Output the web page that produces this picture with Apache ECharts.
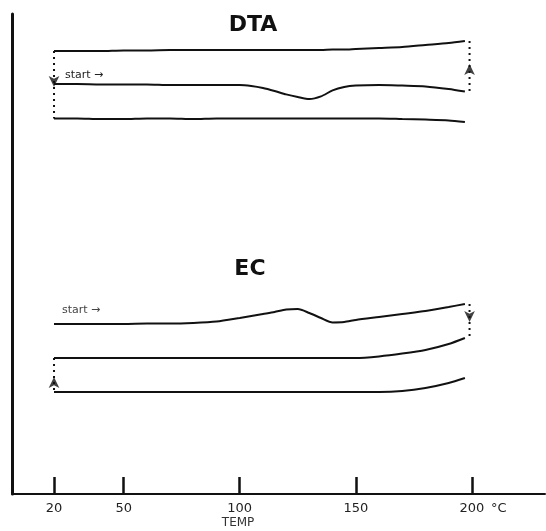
<!DOCTYPE html>
<html>
<head>
<meta charset="utf-8">
<script src="https://cdn.jsdelivr.net/npm/echarts@6/dist/echarts.min.js"></script>
<style>html,body{margin:0;padding:0;background:#fff}#c{width:546px;height:531px}</style>
</head>
<body>
<div id="c"></div>
<script>
// Temperature grid (°C)
const temps = [20,30,40,50,60,70,80,90,100,105,110,115,120,125,130,135,140,145,150,160,170,180,190,197];
// DTA traces (arbitrary deflection units)
const dtaTop = [110.75,110.75,110.75,110.9,110.9,111,111,111,111,111,111,111,111,111,111,111,111.1,111.1,111.25,111.5,111.75,112.25,112.75,113.25];
const dtaMid = [102.5,102.5,102.4,102.4,102.4,102.25,102.25,102.25,102.25,102,101.5,100.75,99.9,99.25,98.75,99.4,100.9,101.75,102.1,102.25,102.1,101.9,101.25,100.6];
const dtaBot = [93.9,93.9,93.75,93.75,93.9,93.9,93.75,93.9,93.9,93.9,93.9,93.9,93.9,93.9,93.9,93.9,93.9,93.9,93.9,93.9,93.75,93.6,93.4,93];
// EC traces
const ecTop = [42.5,42.5,42.5,42.5,42.6,42.6,42.75,43.1,44,44.5,45,45.5,46.1,46.25,45.25,44,42.9,43,43.5,44.25,45,45.75,46.75,47.5];
const ecMid = [34,34,34,34,34,34,34,34,34,34,34,34,34,34,34,34,34,34,34,34.4,35.1,36,37.5,39];
const ecBot = [25.5,25.5,25.5,25.5,25.5,25.5,25.5,25.5,25.5,25.5,25.5,25.5,25.5,25.5,25.5,25.5,25.5,25.5,25.5,25.5,25.75,26.5,27.75,29];
// Range brackets (temperature of dotted verticals)
const bracketLeftT = 20;
const bracketRightT = 199;
// Arrow markers on brackets
const arrowT = [20, 199, 199, 20];
const arrowV = [101.75, 107.5, 43, 29.25];
const arrowRot = [180, 0, 180, 0];
// Tick labels
const tickValues = [20, 50, 100, 150, 200];

const pairs = (vals) => temps.map((t, i) => [t, vals[i]]);
const last = (a) => a[a.length - 1];

const chart = echarts.init(document.getElementById('c'), null, {renderer: 'canvas'});

const lineBase = {
  type: 'line', showSymbol: false, smooth: 0.25, silent: true,
  lineStyle: {color: '#111', width: 2}
};
const dotBase = {
  type: 'line', showSymbol: false, silent: true,
  lineStyle: {color: '#111', width: 2, type: [2, 4]}
};

const option = {
  animation: false,
  backgroundColor: '#fff',
  grid: {left: 12, right: 1, top: 14, bottom: 37},
  xAxis: {
    type: 'value', min: 1.9, max: 231.5,
    splitLine: {show: false},
    axisLine: {show: true, lineStyle: {color: '#111', width: 2}},
    axisTick: {show: true, inside: true, length: 17, customValues: tickValues, lineStyle: {color: '#111', width: 2.5}},
    axisLabel: {show: true, customValues: tickValues, margin: 8, color: '#222', fontSize: 13, fontFamily: 'DejaVu Sans'}
  },
  yAxis: {
    type: 'value', min: 0, max: 120,
    splitLine: {show: false},
    axisLine: {show: true, lineStyle: {color: '#111', width: 3}},
    axisTick: {show: false},
    axisLabel: {show: false}
  },
  series: [
    Object.assign({}, lineBase, {data: pairs(dtaTop)}),
    Object.assign({}, lineBase, {data: pairs(dtaMid)}),
    Object.assign({}, lineBase, {data: pairs(dtaBot)}),
    Object.assign({}, lineBase, {data: pairs(ecTop)}),
    Object.assign({}, lineBase, {data: pairs(ecMid)}),
    Object.assign({}, lineBase, {data: pairs(ecBot)}),
    Object.assign({}, dotBase, {data: [[bracketLeftT, dtaTop[0]], [bracketLeftT, dtaBot[0]]]}),
    Object.assign({}, dotBase, {data: [[bracketRightT, last(dtaTop)], [bracketRightT, last(dtaMid)]]}),
    Object.assign({}, dotBase, {data: [[bracketRightT, last(ecTop)], [bracketRightT, last(ecMid)]]}),
    Object.assign({}, dotBase, {data: [[bracketLeftT, ecMid[0]], [bracketLeftT, ecBot[0]]]}),
    {
      type: 'scatter', silent: true, symbol: 'arrow', symbolSize: [8, 11],
      itemStyle: {color: '#111'},
      data: arrowT.map((t, i) => ({value: [t, arrowV[i]], symbolRotate: arrowRot[i]}))
    }
  ]
};
chart.setOption(option);

function px(t, v) { return chart.convertToPixel({gridIndex: 0}, [t, v]); }
const pDTA = px(105.7, 117.3);
const pEC = px(104.4, 56.3);
const pS1 = px(24.7, 104.75);
const pS2 = px(23.4, 46);
const pTemp = px(99.3, 0);
const pDeg = px(200, 0);

chart.setOption({
  graphic: [
    {type: 'text', x: pDTA[0], y: pDTA[1], style: {text: 'DTA', font: 'bold 22px "DejaVu Sans"', fill: '#111', align: 'center', verticalAlign: 'middle'}},
    {type: 'text', x: pEC[0], y: pEC[1], style: {text: 'EC', font: 'bold 22px "DejaVu Sans"', fill: '#111', align: 'center', verticalAlign: 'middle'}},
    {type: 'text', x: pS1[0], y: pS1[1], style: {text: 'start →', font: '11px "DejaVu Sans"', fill: '#222', align: 'left', verticalAlign: 'middle'}},
    {type: 'text', x: pS2[0], y: pS2[1], style: {text: 'start →', font: '11px "DejaVu Sans"', fill: '#444', align: 'left', verticalAlign: 'middle'}},
    {type: 'text', x: pTemp[0], y: pTemp[1] + 29, style: {text: 'TEMP', font: '12px "DejaVu Sans"', fill: '#333', align: 'center', verticalAlign: 'middle'}},
    {type: 'text', x: pDeg[0] + 19, y: pDeg[1] + 15, style: {text: '°C', font: '13px "DejaVu Sans"', fill: '#222', align: 'left', verticalAlign: 'middle'}}
  ]
});
</script>
</body>
</html>
